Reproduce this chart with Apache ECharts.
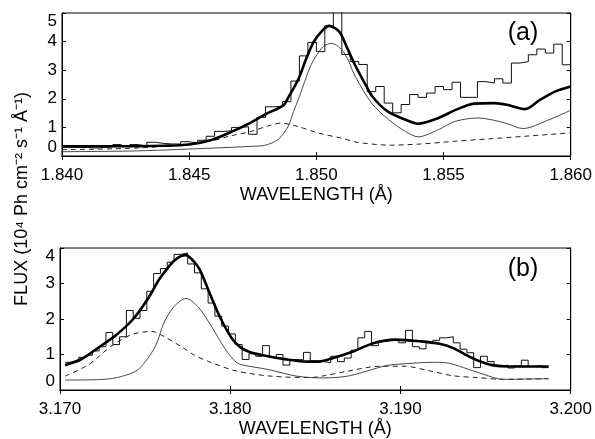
<!DOCTYPE html>
<html>
<head>
<meta charset="utf-8">
<script src="https://cdn.jsdelivr.net/npm/echarts@6/dist/echarts.min.js"></script>
<style>
  html, body { margin: 0; padding: 0; background: #fff; }
  #chart { width: 595px; height: 439px; }
</style>
</head>
<body>
<div id="chart"></div>
<script>
// panel (a): 1.84 - 1.86 A
const aHistStart = 1.840;
const aHistStep = 1 / 3000;
const aHist = [
  0.30, 0.30, 0.30, 0.28, 0.30, 0.32, 0.40, 0.33, 0.40, 0.35,
  0.48, 0.44, 0.42, 0.42, 0.50, 0.45, 0.55, 0.69, 0.86, 0.88,
  1.00, 1.02, 0.76, 1.35, 1.72, 1.74, 1.90, 2.62, 3.50, 3.97,
  3.65, 4.55, 5.60, 3.55, 3.30, 3.20, 2.25, 2.43, 1.85, 1.51,
  1.80, 2.15, 2.05, 2.20, 2.43, 2.32, 2.58, 2.05, 2.05, 2.60,
  2.55, 2.70, 2.55, 3.25, 3.30, 3.54, 3.74, 3.60, 3.91, 3.19
];
const aFitWl = [1.8400, 1.8420, 1.8440, 1.8450, 1.8459, 1.8467, 1.8474, 1.8480, 1.8487, 1.8489,
  1.8493, 1.8496, 1.8499, 1.8502, 1.8505, 1.8509, 1.8512, 1.85155, 1.8519, 1.8522,
  1.8528, 1.8535, 1.8540, 1.8548, 1.8555, 1.8562, 1.8570, 1.8575, 1.8582, 1.8588, 1.8594, 1.8600];
const aFit = [0.34, 0.34, 0.36, 0.40, 0.57, 0.86, 1.16, 1.46, 1.77, 2.05,
  2.70, 3.40, 4.00, 4.35, 4.55, 4.35, 3.80, 3.13, 2.55, 2.08,
  1.56, 1.27, 1.13, 1.33, 1.62, 1.83, 1.85, 1.79, 1.64, 1.97, 2.26, 2.43];
const aLineWl = [1.8400, 1.8430, 1.8460, 1.8475, 1.8480, 1.8485, 1.8489, 1.8491, 1.8493, 1.8496,
  1.8498, 1.8501, 1.8503, 1.8506, 1.8511, 1.85153, 1.85217, 1.85284, 1.8535, 1.8540,
  1.8548, 1.85545, 1.85636, 1.8574, 1.85812, 1.8591, 1.8600];
const aLine = [0.15, 0.18, 0.28, 0.34, 0.38, 0.58, 1.05, 1.55, 2.00, 2.75,
  3.20, 3.65, 3.85, 3.94, 3.60, 2.78, 1.85, 1.27, 0.86, 0.67,
  0.92, 1.21, 1.33, 1.16, 0.96, 1.25, 1.60];
const aDashWl = [1.8400, 1.8430, 1.8450, 1.8460, 1.8466, 1.8474, 1.8481, 1.8486, 1.8492, 1.8501,
  1.8510, 1.8516, 1.8529, 1.8541, 1.8555, 1.8568, 1.8582, 1.8600];
const aDash = [0.22, 0.28, 0.42, 0.55, 0.70, 0.85, 1.05, 1.15, 1.05, 0.80,
  0.62, 0.48, 0.38, 0.42, 0.52, 0.60, 0.69, 0.81];

// panel (b): 3.17 - 3.20 A
const bHistStart = 3.1703;
const bHistStep = 0.0004;
const bHist = [
  0.78, 0.80, 0.92, 0.98, 1.10, 1.22, 1.62, 1.28, 1.50, 2.24,
  2.02, 2.24, 2.78, 3.28, 3.42, 3.60, 3.82, 3.86, 3.55, 3.30,
  2.85, 2.45, 2.08, 1.80, 1.58, 1.28, 0.86, 1.02, 0.95, 1.25,
  0.92, 1.00, 0.70, 0.86, 0.85, 1.06, 0.82, 0.80, 0.77, 0.95,
  0.80, 0.90, 1.12, 1.47, 1.65, 1.25, 1.37, 1.40, 1.42, 1.33,
  1.68, 1.22, 1.16, 1.33, 1.40, 1.47, 1.50, 1.33, 1.15, 1.05,
  0.63, 0.95, 0.80, 0.66, 0.70, 0.62, 0.68, 0.84, 0.66, 0.69,
  0.63
];
const bFitWl = [3.1703, 3.1713, 3.1723, 3.1733, 3.1743, 3.1752, 3.1758, 3.1763, 3.1767, 3.1771,
  3.1774, 3.1778, 3.1782, 3.1788, 3.1794, 3.1801, 3.1806, 3.1811, 3.1820, 3.1832,
  3.1845, 3.1852, 3.1861, 3.1873, 3.1884, 3.1897, 3.1912, 3.1923, 3.1931, 3.1938,
  3.1945, 3.1954, 3.1964, 3.1987];
const bFit = [0.70, 0.88, 1.21, 1.55, 2.00, 2.60, 3.10, 3.42, 3.64, 3.77,
  3.80, 3.65, 3.40, 2.72, 2.05, 1.45, 1.20, 1.08, 0.97, 0.87,
  0.80, 0.80, 0.91, 1.10, 1.32, 1.42, 1.37, 1.30, 1.18, 1.00,
  0.84, 0.70, 0.66, 0.66];
const bLineWl = [3.1703, 3.1726, 3.1736, 3.1746, 3.1756, 3.1761, 3.1767, 3.1774, 3.1781, 3.1789,
  3.1796, 3.1802, 3.1806, 3.1822, 3.1839, 3.1855, 3.1869, 3.1880, 3.1892, 3.1903,
  3.1919, 3.1928, 3.1937, 3.1949, 3.1960, 3.1987];
const bLine = [0.28, 0.30, 0.38, 0.58, 1.23, 1.89, 2.35, 2.58, 2.35, 1.79,
  1.23, 0.85, 0.72, 0.58, 0.39, 0.34, 0.39, 0.53, 0.69, 0.74,
  0.78, 0.76, 0.63, 0.44, 0.30, 0.32];
const bDashWl = [3.1703, 3.1717, 3.1730, 3.1742, 3.1754, 3.1759, 3.1771, 3.1779, 3.1789, 3.1804,
  3.1824, 3.1847, 3.1855, 3.1869, 3.1888, 3.1902, 3.1918, 3.1931, 3.1945, 3.1960, 3.1987];
const bDash = [0.39, 0.72, 1.23, 1.56, 1.65, 1.56, 1.23, 0.98, 0.77, 0.53,
  0.39, 0.35, 0.40, 0.53, 0.67, 0.67, 0.53, 0.40, 0.35, 0.30, 0.32];

const xTitle = 'WAVELENGTH (Å)';
const yTitle = 'FLUX (10⁴ Ph cm⁻² s⁻¹ Å⁻¹)';

const FONT = '"Liberation Sans", Arial, Helvetica, sans-serif';

function pairs(xs, ys) {
  return xs.map((x, i) => [x, ys[i]]);
}

function histData(start, step, vals) {
  const d = vals.map((v, i) => [start + i * step, v]);
  d.push([start + vals.length * step, vals[vals.length - 1]]);
  return d;
}

function xAxes(grid, min, max, interval) {
  const common = {
    gridIndex: grid, type: 'value', min, max, interval,
    axisLine: { lineStyle: { color: '#000', width: 1 } },
    axisTick: { inside: true, length: 4, lineStyle: { color: '#000' } },
    splitLine: { show: false }
  };
  return [
    Object.assign({}, common, {
      position: 'bottom',
      axisLabel: {
        color: '#000', fontSize: 17, fontFamily: FONT, margin: 11,
        formatter: (v) => v.toFixed(3)
      },
      name: xTitle, nameLocation: 'middle', nameGap: 30,
      nameTextStyle: { color: '#000', fontSize: 18, fontFamily: FONT }
    }),
    Object.assign({}, common, { position: 'top', axisLabel: { show: false } })
  ];
}

function yAxes(grid, min, max) {
  const common = {
    gridIndex: grid, type: 'value', min, max, interval: 1,
    axisLine: { lineStyle: { color: '#000', width: 1 } },
    axisTick: { inside: true, length: 4, lineStyle: { color: '#000' } },
    splitLine: { show: false }
  };
  return [
    Object.assign({}, common, {
      position: 'left',
      axisLabel: {
        color: '#000', fontSize: 17, fontFamily: FONT, margin: 5,
        verticalAlignMinLabel: 'bottom', verticalAlignMaxLabel: 'top'
      }
    }),
    Object.assign({}, common, { position: 'right', axisLabel: { show: false } })
  ];
}

function seriesSet(xi, yi, hist, fit, line, dash) {
  const base = { type: 'line', xAxisIndex: xi, yAxisIndex: yi, showSymbol: false, silent: true, clip: true };
  return [
    Object.assign({}, base, { data: hist, step: 'end', lineStyle: { color: '#111', width: 1 } }),
    Object.assign({}, base, { data: dash, smooth: 0.3, lineStyle: { color: '#222', width: 1, type: [5, 4] } }),
    Object.assign({}, base, { data: line, smooth: 0.3, lineStyle: { color: '#333', width: 0.9 } }),
    Object.assign({}, base, { data: fit, smooth: 0.3, lineStyle: { color: '#000', width: 2.6 } })
  ];
}

const chart = echarts.init(document.getElementById('chart'), null, { renderer: 'canvas' });

chart.setOption({
  backgroundColor: '#fff',
  animation: false,
  grid: [
    { left: 62, top: 13, width: 511, height: 143, show: true, borderColor: '#000', borderWidth: 1, backgroundColor: 'transparent' },
    { left: 60, top: 248, width: 513, height: 143, show: true, borderColor: '#000', borderWidth: 1, backgroundColor: 'transparent' }
  ],
  xAxis: [].concat(xAxes(0, 1.840, 1.860, 0.005), xAxes(1, 3.170, 3.200, 0.01)),
  yAxis: [].concat(yAxes(0, 0, 5), yAxes(1, 0, 4)),
  series: [].concat(
    seriesSet(0, 0, histData(aHistStart, aHistStep, aHist), pairs(aFitWl, aFit), pairs(aLineWl, aLine), pairs(aDashWl, aDash)),
    seriesSet(2, 2, histData(bHistStart, bHistStep, bHist), pairs(bFitWl, bFit), pairs(bLineWl, bLine), pairs(bDashWl, bDash))
  ),
  graphic: [
    {
      type: 'text', x: 22, y: 199, rotation: Math.PI / 2,
      style: { text: yTitle, font: '18px ' + FONT, fill: '#000', textAlign: 'center', textVerticalAlign: 'middle' }
    },
    {
      type: 'text', x: 523, y: 33,
      style: { text: '(a)', font: '25px ' + FONT, fill: '#000', textAlign: 'center', textVerticalAlign: 'middle' }
    },
    {
      type: 'text', x: 523, y: 269,
      style: { text: '(b)', font: '25px ' + FONT, fill: '#000', textAlign: 'center', textVerticalAlign: 'middle' }
    }
  ]
});
</script>
</body>
</html>
